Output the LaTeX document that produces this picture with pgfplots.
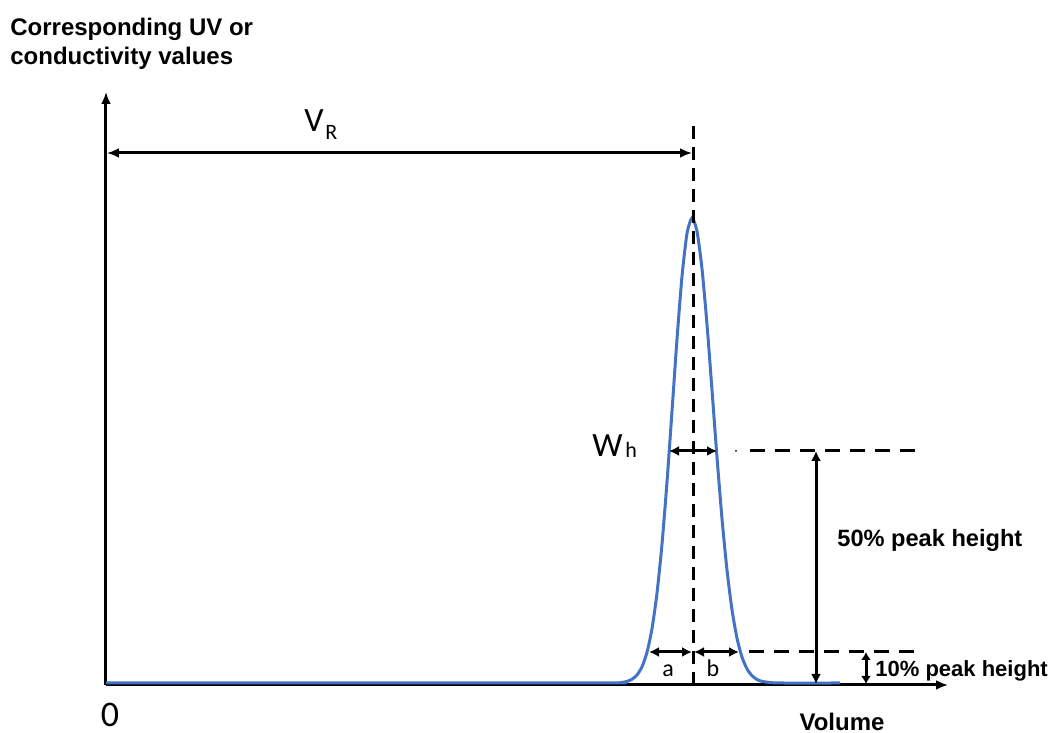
\documentclass[border=0pt]{standalone}
\usepackage{fontspec}
\setmainfont{Liberation Sans}
\newfontfamily\calib{Carlito}
\usepackage{pgfplots}
\pgfplotsset{compat=1.18}
\usetikzlibrary{arrows.meta}
\definecolor{peakblue}{RGB}{68,114,196}
\begin{document}
\begin{tikzpicture}
\useasboundingbox (-53pt,-24pt) rectangle (472.5pt,342.5pt);
\begin{axis}[
  anchor=south west, at={(0pt,0pt)},
  x=0.5pt, y=0.5pt,
  xmin=0, xmax=842, ymin=0, ymax=593,
  axis lines=left,
  axis line style={line width=1.5pt, -{Latex[length=6pt,width=5pt]}},
  xtick=\empty, ytick=\empty,
  clip=false,
]
\addplot[color=peakblue, line width=1.5pt, smooth, tension=0.4] coordinates {
(0,2) (300,2) (506,2.1) (516,2.6) (521,3.6) (526,5.7) (531,10.0) (536,18.2)
(541,32.7) (546,56.3) (551,91.8) (556,140.9) (561,203.0) (566,273.8)
(571,345.8) (576,408.6) (581,451.6) (586,467)
(591,453.7) (596,416.2) (601,360.6) (606,294.9) (611,227.8) (616,166.3)
(621,114.9) (626,75.2) (631,46.8) (636,27.8) (641,16.1) (646,9.3)
(651,5.5) (656,3.6) (666,2.3) (676,2.0) (734,2.0)
};
% dashed vertical at peak
\draw[line width=1.5pt, dash pattern=on 6.5pt off 4pt] (axis cs:587,0) -- (axis cs:587,560);
% V_R arrow
\draw[line width=1.5pt, {Latex[length=6pt,width=5pt]}-{Latex[length=6pt,width=5pt]}] (axis cs:1,532) -- (axis cs:586,532);
\node[anchor=base west, inner sep=0pt, font=\calib\fontsize{17}{20}\selectfont] at (axis cs:198,553) {V};
\node[anchor=base west, inner sep=0pt, font=\calib\fontsize{11}{13}\selectfont] at (axis cs:219,545) {R};
% W_h
\draw[line width=1.5pt, {Latex[length=5pt,width=5pt]}-{Latex[length=5pt,width=5pt]}] (axis cs:563,234) -- (axis cs:611,234);
\node[anchor=base west, inner sep=0pt, font=\calib\fontsize{17}{20}\selectfont] at (axis cs:486,228) {W};
\node[anchor=base west, inner sep=0pt, font=\calib\fontsize{11}{13}\selectfont] at (axis cs:519,227) {h};
% half height dashed line
\draw[line width=1.5pt, dash pattern=on 7.5pt off 5pt] (axis cs:644,234) -- (axis cs:812,234);
\fill (axis cs:630,234) circle (0.5pt);
% 10% dashed line
\draw[line width=1.5pt, dash pattern=on 7.5pt off 5pt] (axis cs:643,33) -- (axis cs:809,33);
% a / b arrows
\draw[line width=1.5pt, {Latex[length=5pt,width=5pt]}-{Latex[length=5pt,width=5pt]}] (axis cs:543,33) -- (axis cs:586,33);
\draw[line width=1.5pt, {Latex[length=5pt,width=5pt]}-{Latex[length=5pt,width=5pt]}] (axis cs:588,33) -- (axis cs:633,33);
\node[anchor=base, inner sep=0pt, font=\calib\fontsize{12}{14}\selectfont] at (axis cs:562,8) {a};
\node[anchor=base, inner sep=0pt, font=\calib\fontsize{12}{14}\selectfont] at (axis cs:607,8) {b};
% 50% arrow
\draw[line width=1.5pt, {Latex[length=5pt,width=5pt]}-{Latex[length=5pt,width=5pt]}] (axis cs:710,1) -- (axis cs:710,234);
\node[anchor=base west, inner sep=0pt, font=\bfseries\fontsize{11.8}{14}\selectfont] at (axis cs:731,138) {50\% peak height};
% 10% arrow
\draw[line width=1.5pt, {Latex[length=4pt,width=5pt]}-{Latex[length=4pt,width=5pt]}] (axis cs:760,1) -- (axis cs:760,33);
\node[anchor=base west, inner sep=0pt, font=\bfseries\fontsize{11}{13}\selectfont] at (axis cs:769,8) {10\% peak height};
% axis texts
\node[anchor=base, inner sep=0pt, font=\bfseries\fontsize{12}{14}\selectfont] at (axis cs:736,-46) {Volume};
\node[anchor=base, inner sep=0pt, font=\calib\fontsize{18}{20}\selectfont] at (axis cs:4,-42) {0};
\node[anchor=base west, inner sep=0pt, font=\bfseries\fontsize{12}{14}\selectfont] at (axis cs:-96,649) {Corresponding UV or};
\node[anchor=base west, inner sep=0pt, font=\bfseries\fontsize{12}{14}\selectfont] at (axis cs:-96,620) {conductivity values};
\end{axis}
\end{tikzpicture}
\end{document}
